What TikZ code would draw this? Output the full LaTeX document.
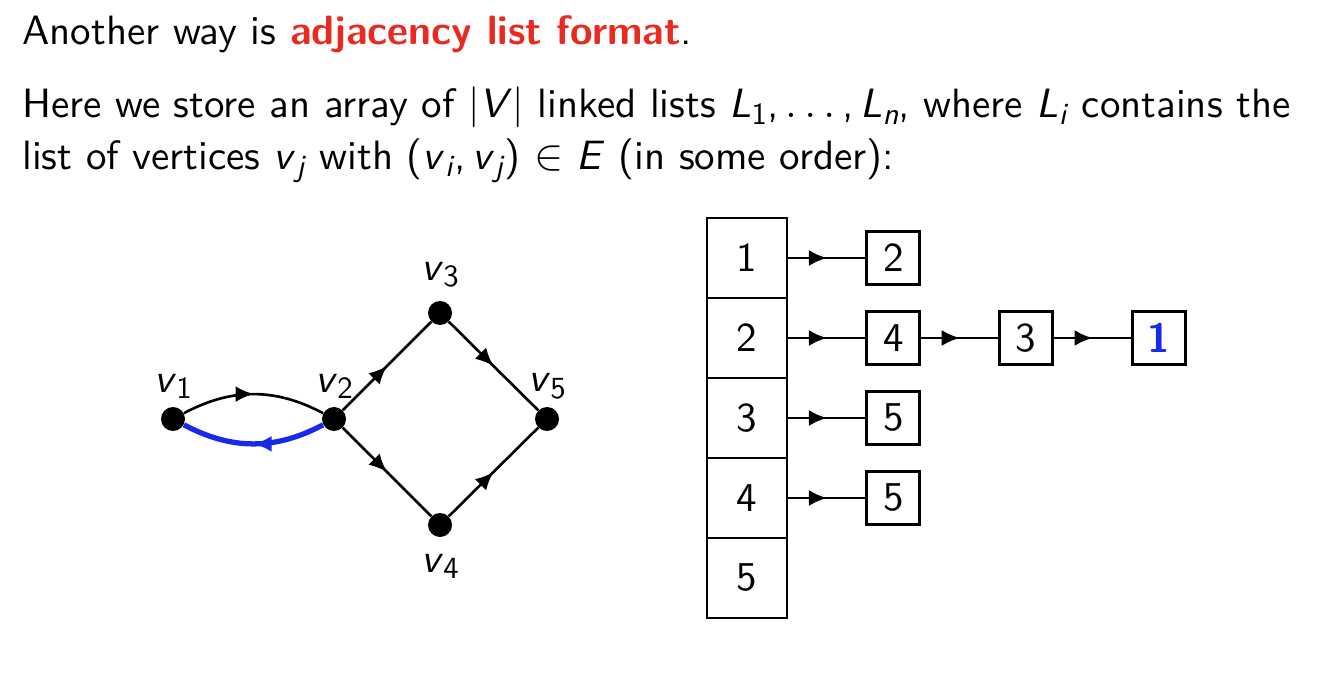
\documentclass[tikz,border=0pt]{standalone}
\usepackage{fontspec}
\setsansfont{lmsans10-regular.otf}[BoldFont=lmsans10-bold.otf,ItalicFont=lmsans10-oblique.otf]
\usetikzlibrary{arrows.meta,decorations.markings,positioning}
\definecolor{alertred}{RGB}{232,42,32}
\definecolor{edgeblue}{RGB}{22,42,235}
\tikzset{
  vert/.style={circle,fill=black,inner sep=0pt,minimum size=0.48cm},
  midarrow/.style={postaction={decorate},decoration={markings,mark=at position 0.5 with {\arrow{Latex[length=3.6mm,width=3.2mm]}}}},
  cell/.style={draw,line width=1.6pt,minimum width=1.6cm,minimum height=1.6cm,inner sep=0pt},
  item/.style={draw,line width=1.6pt,minimum size=1.06cm,inner sep=0pt},
  edge/.style={line width=1.5pt,midarrow},
  node distance=1.54cm,
}
\newcommand{\sub}[1]{\raisebox{-0.16em}{\fontsize{17.5}{17.5}\selectfont #1}}
\newcommand{\vtx}[1]{\textit{v}\sub{#1}}
\begin{document}
\begin{tikzpicture}[every node/.style={font=\sffamily\fontsize{23.3}{28}\selectfont}]
\useasboundingbox (0,0) rectangle (26.68,-13.84);
% slide text
\node[anchor=base west,inner sep=0pt] (intro) at (0.44,-0.9) {Another way is \textcolor{alertred}{\textbf{adjacency list format}}.};
\node[anchor=base west,inner sep=0pt] (line2) at (0.44,-2.36) {Here we store an array of |\textit{V}| linked lists \textit{L}\sub{1},\,$\ldots$\,,\,\textit{L}\sub{\textit{n}}, where \textit{L}\sub{\textit{i}} contains the};
\node[anchor=base west,inner sep=0pt] (line3) at (0.44,-3.4) {list of vertices \vtx{\textit{j}} with (\vtx{\textit{i}},\,\vtx{\textit{j}})\,\,$\in$\,\,\textit{E} (in some order):};
% graph
\node[vert,label={[label distance=1pt]above:\vtx{1}}] (v1) at (3.46,-8.38) {};
\node[vert,label={[label distance=1pt]above:\vtx{2}}] (v2) at (6.68,-8.38) {};
\node[vert,label={[label distance=4pt]above:\vtx{3}}] (v3) at (8.8,-6.26) {};
\node[vert,label={[label distance=6pt]below:\vtx{4}}] (v4) at (8.8,-10.5) {};
\node[vert,label={[label distance=1pt]above:\vtx{5}}] (v5) at (10.94,-8.38) {};
\draw[edge] (v1) to[bend left=28] (v2);
\draw[edge,line width=3pt,edgeblue] (v2) to[bend left=28] (v1);
\draw[edge] (v2) -- (v3);
\draw[edge] (v3) -- (v5);
\draw[edge] (v2) -- (v4);
\draw[edge] (v4) -- (v5);
% adjacency array
\foreach \i in {1,...,5} {
  \node[cell] (c\i) at (14.94,-5.16-1.6*\i+1.6) {\i};
}
\node[item,right=of c1] (a12) {2};
\node[item,right=of c2] (a24) {4};
\node[item,right=of a24] (a23) {3};
\node[item,right=of a23] (a21) {\textcolor{edgeblue}{\textbf{1}}};
\node[item,right=of c3] (a35) {5};
\node[item,right=of c4] (a45) {5};
\draw[edge] (c1) -- (a12);
\draw[edge] (c2) -- (a24);
\draw[edge] (a24) -- (a23);
\draw[edge] (a23) -- (a21);
\draw[edge] (c3) -- (a35);
\draw[edge] (c4) -- (a45);
\end{tikzpicture}
\end{document}
